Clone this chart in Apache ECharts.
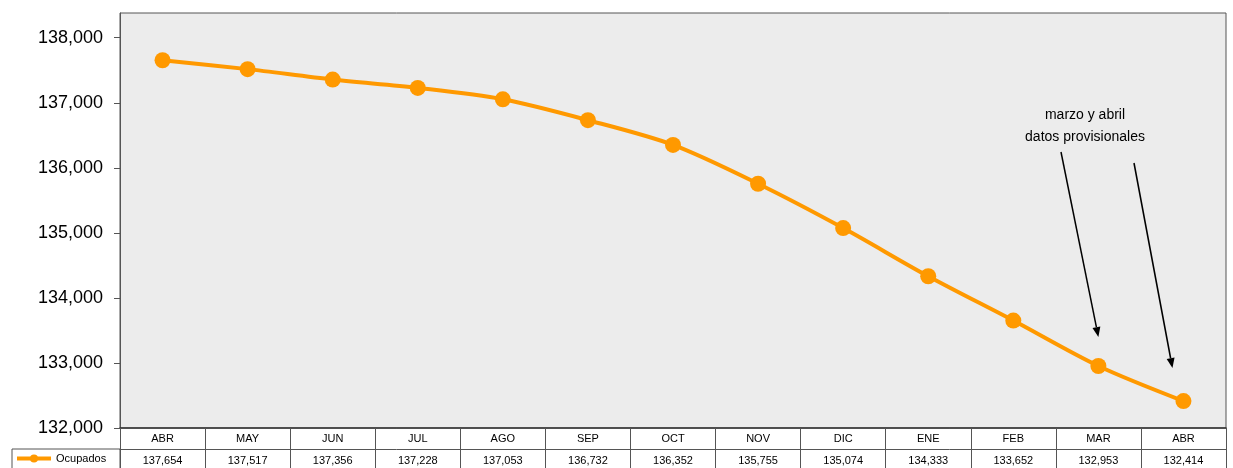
<!DOCTYPE html>
<html><head><meta charset="utf-8">
<script src="https://cdn.jsdelivr.net/npm/echarts@6/dist/echarts.min.js"></script>
<style>html,body{margin:0;padding:0;background:#fff}#c{width:1233px;height:468px}</style>
</head><body><div id="c"></div>
<script>
const categories = ['ABR','MAY','JUN','JUL','AGO','SEP','OCT','NOV','DIC','ENE','FEB','MAR','ABR'];
const ocupados = [137654,137517,137356,137228,137053,136732,136352,135755,135074,134333,133652,132953,132414];
const yTicks = [132000,133000,134000,135000,136000,137000,138000];
const seriesName = 'Ocupados';
const noteLines = ['marzo y abril','datos provisionales'];

const fmt = v => v.toLocaleString('en-US');
const chart = echarts.init(document.getElementById('c'));
const font = 'Liberation Sans, Arial, sans-serif';
chart.setOption({
  animation:false,
  backgroundColor:'#fff',
  grid:{left:120,right:7,top:13,bottom:40,show:true,backgroundColor:'#ececec',borderColor:'#555',borderWidth:1},
  legend:{left:15,top:453,itemWidth:34,itemHeight:10,itemGap:2,padding:0,
    itemStyle:{color:'#ff9900'},lineStyle:{width:4,color:'#ff9900'},
    textStyle:{fontFamily:font,fontSize:11,color:'#000'},data:[seriesName]},
  xAxis:[
    {type:'category',data:categories,boundaryGap:true,
     axisLine:{show:true,lineStyle:{color:'#333',width:1.5}},
     axisTick:{show:true,inside:false,length:21,interval:0,lineStyle:{color:'#555'}},
     axisLabel:{interval:0,margin:5,fontFamily:font,fontSize:11,color:'#000'}},
    {type:'category',data:ocupados.map(fmt),boundaryGap:true,position:'bottom',offset:21,
     axisLine:{show:true,lineStyle:{color:'#555',width:1}},
     axisTick:{show:true,inside:false,length:20,interval:0,lineStyle:{color:'#555'}},
     axisLabel:{interval:0,margin:6,fontFamily:font,fontSize:11,color:'#000'}}
  ],
  yAxis:{type:'value',min:132000,max:138380,
    axisLine:{show:true,lineStyle:{color:'#555'}},
    axisTick:{show:true,length:6,customValues:yTicks,lineStyle:{color:'#555'}},
    axisLabel:{customValues:yTicks,margin:17,fontFamily:font,fontSize:18,color:'#000',formatter:v=>fmt(v)},
    splitLine:{show:false}},
  series:[{name:seriesName,type:'line',xAxisIndex:0,data:ocupados,
    symbol:'circle',symbolSize:16,smooth:0.3,
    lineStyle:{color:'#ff9900',width:4},itemStyle:{color:'#ff9900'}}]
});

function arrow(x1,y1,x2,y2){
  const a=Math.atan2(y2-y1,x2-x1), L=10, W=4;
  const bx=x2-L*Math.cos(a), by=y2-L*Math.sin(a);
  return [
    {type:'line',shape:{x1:x1,y1:y1,x2:bx,y2:by},style:{stroke:'#000',lineWidth:1.5},z:10},
    {type:'polygon',shape:{points:[[x2,y2],[bx+W*Math.sin(a),by-W*Math.cos(a)],[bx-W*Math.sin(a),by+W*Math.cos(a)]]},style:{fill:'#000'},z:10}
  ];
}
const pMar = chart.convertToPixel({seriesIndex:0},[11,ocupados[11]]);
const pAbr = chart.convertToPixel({seriesIndex:0},[12,ocupados[12]]);
chart.setOption({graphic:[
  {type:'rect',shape:{x:12,y:449,width:108,height:20},style:{fill:'none',stroke:'#555',lineWidth:1},z:5},
  {type:'text',style:{x:1085,y:115,text:noteLines[0],fontFamily:font,fontSize:14,fill:'#000',align:'center',verticalAlign:'middle'},z:10},
  {type:'text',style:{x:1085,y:137,text:noteLines[1],fontFamily:font,fontSize:14,fill:'#000',align:'center',verticalAlign:'middle'},z:10},
  ...arrow(1061,152,pMar[0],pMar[1]-29),
  ...arrow(1134,163,pAbr[0]-11,pAbr[1]-33)
]});
</script></body></html>
